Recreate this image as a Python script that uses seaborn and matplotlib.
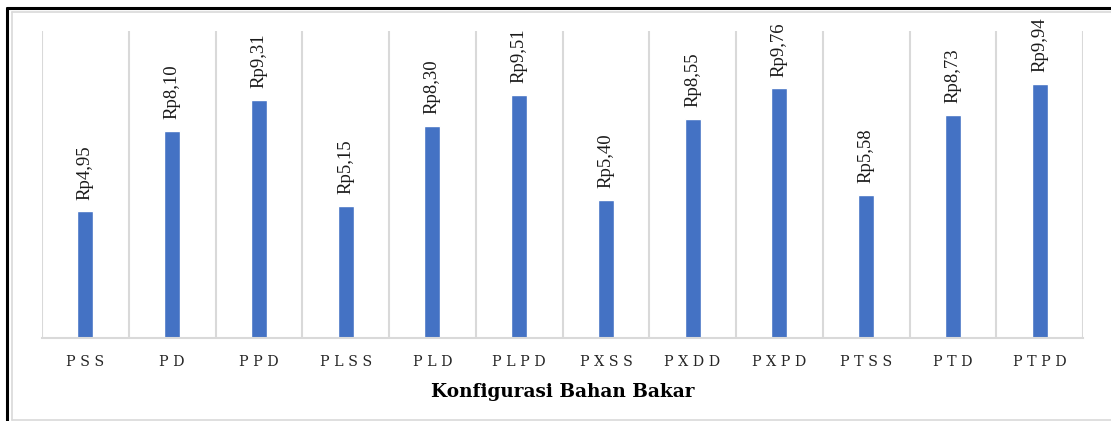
import matplotlib
matplotlib.use("Agg")
import matplotlib.pyplot as plt
import seaborn as sns
import pandas as pd
from matplotlib.lines import Line2D

categories = ["PSS", "PD", "PPD", "PLSS", "PLD", "PLPD", "PXSS", "PXDD", "PXPD", "PTSS", "PTD", "PTPD"]
values = [4.95, 8.10, 9.31, 5.15, 8.30, 9.51, 5.40, 8.55, 9.76, 5.58, 8.73, 9.94]
value_labels = ["Rp4,95", "Rp8,10", "Rp9,31", "Rp5,15", "Rp8,30", "Rp9,51",
                "Rp5,40", "Rp8,55", "Rp9,76", "Rp5,58", "Rp8,73", "Rp9,94"]
x_title = "Konfigurasi Bahan Bakar"

sns.set_style("white")
W, H = 1111, 421
fig = plt.figure(figsize=(W / 100, H / 100), dpi=100)
ax = fig.add_axes([42 / W, 1 - 338 / H, (1083 - 42) / W, (338 - 31) / H])

df = pd.DataFrame({"cat": categories, "val": values})
sns.barplot(data=df, x="cat", y="val", color="#4472C4", saturation=1, width=0.185, ax=ax)

ax.set_xlim(-0.5, len(categories) - 0.5)
ax.set_ylim(0, 12)
ax.set_yticks([])
for s in ["top", "right", "left"]:
    ax.spines[s].set_visible(False)
ax.spines["bottom"].set_color("#d9d9d9")
ax.spines["bottom"].set_linewidth(1.5)

ax.set_xticks([i - 0.5 for i in range(len(categories) + 1)], minor=True)
ax.grid(False)
ax.xaxis.grid(True, which="minor", color="#d9d9d9", linewidth=1.5)
ax.tick_params(axis="x", which="both", length=0)
ax.set_xticks(range(len(categories)))
ax.set_xticklabels([" ".join(c) for c in categories], fontfamily="DejaVu Serif",
                   fontsize=10.3, color="#262626")
ax.tick_params(axis="x", pad=12)
ax.set_xlabel(x_title, fontfamily="DejaVu Serif", fontsize=13.3, fontweight="bold",
              color="black", labelpad=10)
ax.set_ylabel("")

for p, lab in zip(ax.patches, value_labels):
    ax.annotate(lab, (p.get_x() + p.get_width() / 2, p.get_height()),
                xytext=(0, 8.5), textcoords="offset points", rotation=90,
                ha="center", va="bottom", fontfamily="Liberation Serif",
                fontsize=13.5, color="#1a1a1a")

# frame decorations
fig.add_artist(Line2D([7 / W, 7 / W], [0, 1 - 8 / H], color="black", lw=2.2))
fig.add_artist(Line2D([7 / W, 1], [1 - 8 / H, 1 - 8 / H], color="black", lw=2.2))
fig.add_artist(Line2D([12 / W, 12 / W], [1 / H, 1 - 12 / H], color="#d9d9d9", lw=1.2))
fig.add_artist(Line2D([12 / W, 1], [1 - 12 / H, 1 - 12 / H], color="#d9d9d9", lw=1.2))
fig.add_artist(Line2D([12 / W, 1], [1.2 / H, 1.2 / H], color="#d9d9d9", lw=1.2))

fig.savefig("out.png", dpi=100)
